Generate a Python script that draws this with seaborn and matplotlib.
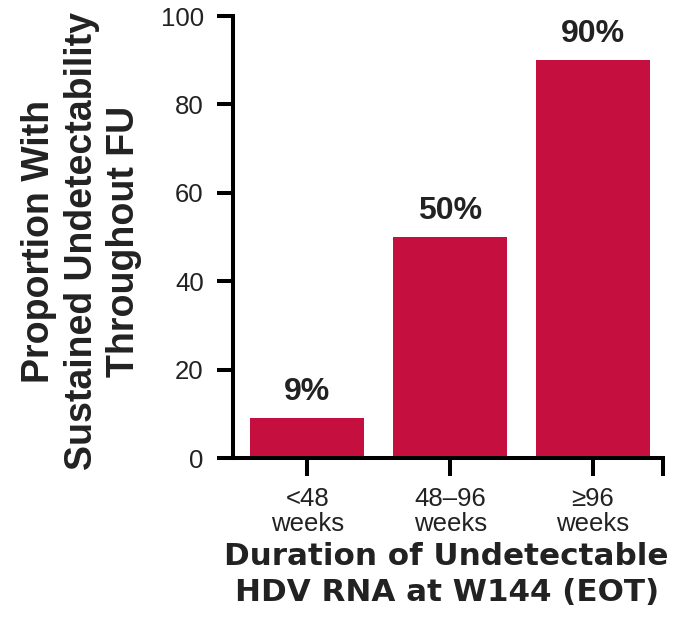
import matplotlib
matplotlib.use("Agg")
import matplotlib.pyplot as plt
import seaborn as sns
import pandas as pd

categories = ["<48\nweeks", "48\u201396\nweeks", "\u226596\nweeks"]
proportions = [9, 50, 90]
value_labels = ["9%", "50%", "90%"]
y_ticks = [0, 20, 40, 60, 80, 100]

BAR_COLOR = "#C5103F"
TEXT_COLOR = "#222222"

sns.set_theme(style="white")
plt.rcParams["font.family"] = ["Liberation Sans", "DejaVu Sans"]

df = pd.DataFrame({"duration": categories, "proportion": proportions})

fig = plt.figure(figsize=(6.73, 6.19), dpi=100)
ax = fig.add_axes([233 / 673, 1 - 458 / 619, 430 / 673, 442 / 619])

sns.barplot(data=df, x="duration", y="proportion", color=BAR_COLOR,
            saturation=1, width=0.8, ax=ax, edgecolor="none")

ax.set_ylim(0, 100)
ax.set_xlim(-0.52, 2.49)
ax.set_yticks(y_ticks)
ax.set_xticks([0, 1, 2], labels=categories)
ax.set_xticks([2.49], minor=True)

for side in ("top", "right"):
    ax.spines[side].set_visible(False)
for side in ("left", "bottom"):
    ax.spines[side].set_linewidth(2.9)
    ax.spines[side].set_color("black")
    ax.spines[side].set_capstyle("projecting")

ax.tick_params(axis="y", which="major", direction="out", length=11.5, width=2.9,
               color="black", pad=9.5, labelsize=18.5, labelcolor=TEXT_COLOR, left=True)
ax.tick_params(axis="x", which="both", direction="out", length=13, width=2.9,
               color="black", pad=8, labelsize=18.5, labelcolor=TEXT_COLOR, bottom=True)
for lbl in ax.get_xticklabels():
    lbl.set_linespacing(1.05)

for bar, val, txt in zip(ax.patches, proportions, value_labels):
    ax.annotate(txt, (bar.get_x() + bar.get_width() / 2, val),
                xytext=(0, 13), textcoords="offset points",
                ha="center", va="baseline", fontsize=23, fontweight="bold",
                color=TEXT_COLOR)

ax.set_ylabel("Proportion With\nSustained Undetectability\nThroughout FU",
              fontsize=27, fontweight="bold", color=TEXT_COLOR, linespacing=1.22)
ax.yaxis.label.set_va("center")
ax.yaxis.set_label_coords(-0.352, 0.49)

ax.set_xlabel("Duration of Undetectable\nHDV RNA at W144 (EOT)",
              fontsize=22.3, fontweight="bold", color=TEXT_COLOR, linespacing=1.3,
              family=["DejaVu Sans"])
ax.xaxis.set_label_coords(0.497, -0.19)

fig.savefig("out.png", dpi=100)
